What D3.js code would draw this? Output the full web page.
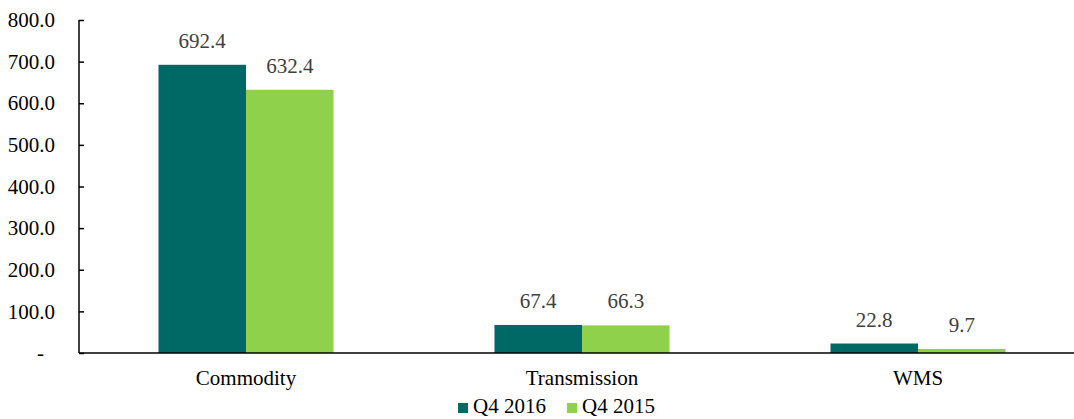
<!DOCTYPE html>
<html lang="en">
<head>
<meta charset="UTF-8">
<title>Q4 comparison</title>
<script src="https://d3js.org/d3.v7.min.js"></script>
<style>
  body { margin: 0; background: #fff; }
  svg text { font-family: "Liberation Serif", "Times New Roman", "DejaVu Serif", serif; }
</style>
</head>
<body>
<svg id="chart"></svg>
<script>
const width = 1074, height = 419;
const svg = d3.select("#chart").attr("width", width).attr("height", height);
const font = "Liberation Serif, Times New Roman, serif";

// data
const categories = ["Commodity", "Transmission", "WMS"];
const seriesNames = ["Q4 2016", "Q4 2015"];
const q42016 = [692.4, 67.4, 22.8];
const q42015 = [632.4, 66.3, 9.7];
const yTicks = [0, 100, 200, 300, 400, 500, 600, 700, 800];
const colors = ["#006966", "#8fd14a"];

const margin = { top: 20, bottom: 66, left: 79 };
// plot area runs past the right edge of the window
const x0 = d3.scaleBand().domain(categories)
  .range([78, 1086])
  .paddingInner(0.479).paddingOuter(0.2395);
const x1 = d3.scaleBand().domain(seriesNames).range([0, x0.bandwidth()]);
const y = d3.scaleLinear().domain([0, 800]).range([height - margin.bottom, margin.top]);

const values = [q42016, q42015];

// bars
categories.forEach((c, i) => {
  seriesNames.forEach((s, j) => {
    const v = values[j][i];
    svg.append("rect")
      .attr("x", x0(c) + x1(s))
      .attr("y", y(v))
      .attr("width", x1.bandwidth())
      .attr("height", y(0) - y(v))
      .attr("fill", colors[j]);
    svg.append("text")
      .attr("x", x0(c) + x1(s) + x1.bandwidth() / 2)
      .attr("y", y(v) - 17)
      .attr("text-anchor", "middle")
      .attr("font-family", font)
      .attr("font-size", 21)
      .attr("fill", "#404040")
      .text(v.toFixed(1));
  });
});

// y axis
const yAxis = d3.axisLeft(y).tickValues(yTicks).tickSize(-5).tickPadding(24)
  .tickFormat(d => d === 0 ? "-" : d.toFixed(1));
const gy = svg.append("g").attr("transform", `translate(${margin.left},0)`).call(yAxis);
gy.attr("font-family", font).attr("font-size", 21);
gy.select(".domain").attr("stroke", "#000").attr("stroke-width", 1.5).attr("d", `M0,${y(800)}V${y(0)}`);
gy.selectAll(".tick line").attr("stroke", "#000").attr("stroke-width", 1.5);
gy.selectAll(".tick text").attr("fill", "#000")
  .attr("dx", d => d === 0 ? -11 : 0);

// x axis line
svg.append("line")
  .attr("x1", margin.left).attr("x2", width)
  .attr("y1", y(0)).attr("y2", y(0))
  .attr("stroke", "#000").attr("stroke-width", 1.5);

// category labels
svg.selectAll(".cat").data(categories).enter().append("text")
  .attr("x", d => x0(d) + x0.bandwidth() / 2)
  .attr("y", y(0) + 32)
  .attr("text-anchor", "middle")
  .attr("font-family", font)
  .attr("font-size", 21)
  .attr("fill", "#000")
  .text(d => d);

// legend
const legendX = [458, 567];
seriesNames.forEach((s, j) => {
  svg.append("rect").attr("x", legendX[j]).attr("y", 403).attr("width", 10).attr("height", 10).attr("fill", colors[j]);
  svg.append("text").attr("x", legendX[j] + 15).attr("y", 413)
    .attr("font-family", font)
    .attr("font-size", 21).attr("fill", "#000").text(s);
});
</script>
</body>
</html>
